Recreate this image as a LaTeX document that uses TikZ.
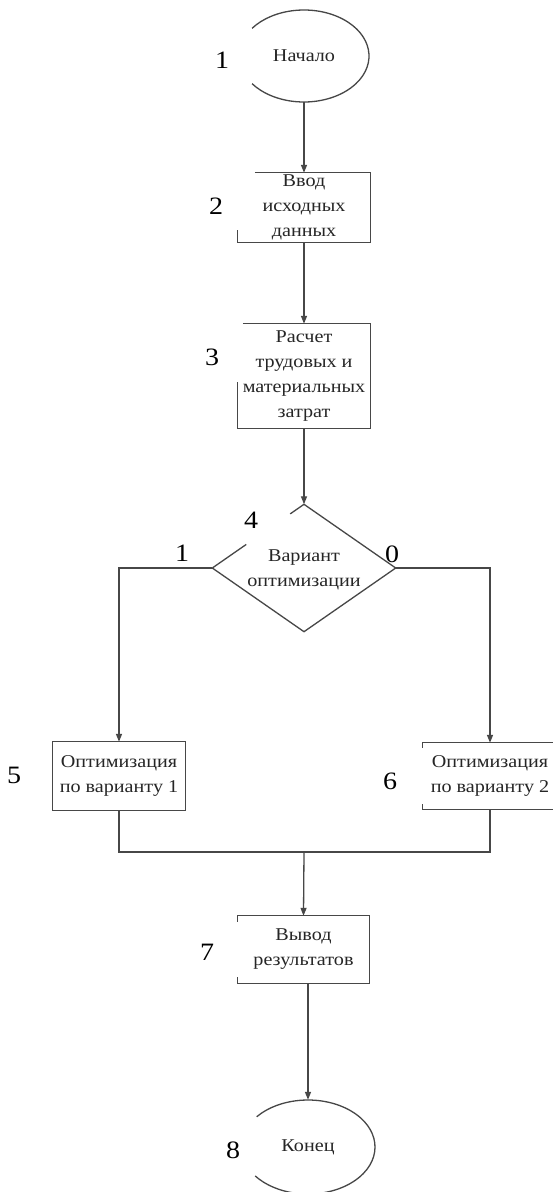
\documentclass[tikz,border=0pt]{standalone}
\usepackage{fontspec}
\setmainfont{Liberation Serif}[FakeStretch=1.12]
\usetikzlibrary{arrows.meta,calc,shapes.geometric}

\begin{document}
\begin{tikzpicture}[x=1pt,y=-1pt,
  outline/.style={draw=black!72, line width=1.3pt},
  flow/.style={outline, -{Triangle[length=8pt,width=6pt]}},
  link/.style={outline},
  boxnode/.style={rectangle, inner sep=0pt, align=center, text=black!85,
    font=\fontsize{18}{25}\selectfont},
  ovalnode/.style={ellipse, inner sep=0pt, minimum width=130pt, minimum height=92pt,
    text=black!85, font=\fontsize{18}{25}\selectfont},
  numlabel/.style={inner sep=0pt, text=black, font=\fontsize{25}{25}\selectfont},
]
\useasboundingbox (0,0) rectangle (553,1192);
\fill[white] (0,0) rectangle (553,1192);

% blocks
\node[ovalnode] (e1) at (304,56) {Начало};
\node[boxnode, minimum width=132pt, minimum height=69pt] (b2) at (304,207.5) {Ввод\\исходных\\данных};
\node[boxnode, minimum width=132pt, minimum height=104pt] (b3) at (304,376) {Расчет\\трудовых и\\материальных\\затрат};
\node[diamond, inner sep=0pt, minimum width=183pt, minimum height=127pt] (d4) at (304,568) {};
\node[boxnode] (d4t) at ([yshift=-1.5pt]d4.center) {Вариант\\оптимизации};
\node[boxnode, minimum width=132pt, minimum height=68pt] (b5) at (119,776) {Оптимизация\\по варианту 1};
\node[boxnode, minimum width=134pt, minimum height=66pt] (b6) at (490,776) {Оптимизация\\по варианту 2};
\node[boxnode, minimum width=131pt, minimum height=67pt] (b7) at (303.5,949.5) {Вывод\\результатов};
\node[ovalnode, minimum width=134pt, minimum height=94pt] (e8) at (308,1147) {Конец};

% outlines
\draw[outline] ([shift={(143:65pt and 46pt)}]e1.center)
  arc[start angle=143, end angle=-143, x radius=65pt, y radius=46pt];
\draw[outline] ([xshift=17pt]b2.north west) -- (b2.north east) -- (b2.south east)
  -- (b2.south west) -- ([yshift=12pt]b2.south west);
\draw[outline] ([xshift=5pt]b3.north west) -- (b3.north east) -- (b3.south east)
  -- (b3.south west) -- ([yshift=46pt]b3.south west);
\draw[outline] ($(d4.west)!0.85!(d4.north)$) -- (d4.north) -- (d4.east) -- (d4.south)
  -- (d4.west) -- ($(d4.west)!0.37!(d4.north)$);
\draw[outline] (b5.north west) rectangle (b5.south east);
\draw[outline] ([yshift=-5pt]b6.north west) -- (b6.north west) -- ([xshift=-4pt]b6.north east);
\draw[outline] ([yshift=5pt]b6.south west) -- (b6.south west) -- ([xshift=-4pt]b6.south east);
\draw[outline] ([yshift=-6pt]b7.north west) -- (b7.north west) -- (b7.north east)
  -- (b7.south east) -- (b7.south west) -- ([yshift=6pt]b7.south west);
\draw[outline] ([shift={(140:67pt and 47pt)}]e8.center)
  arc[start angle=140, end angle=-142, x radius=67pt, y radius=47pt];

% connectors
\draw[flow] (e1.south) -- (b2.north);
\draw[flow] (b2.south) -- (b3.north);
\draw[flow] (b3.south) -- (d4.north);
\draw[flow] (d4.west) -- (d4.west -| b5.north) -- (b5.north);
\draw[flow] (d4.east) -- (d4.east -| b6.north) -- (b6.north);
\coordinate (j) at (304,852);
\draw[link] (b5.south) -- (b5.south |- j) -- (b6.south |- j) -- (b6.south);
\draw[flow] (j) -- (b7.north);
\draw[flow] (e8.north |- b7.south) -- (e8.north);

% block numbers and branch values
\node[numlabel] (n1) at (222,60) {1};
\node[numlabel] (n2) at (216,206) {2};
\node[numlabel] (n3) at (212,357) {3};
\node[numlabel] (n4) at (251,520) {4};
\node[numlabel] (yes) at (182,553) {1};
\node[numlabel] (no) at (392,554) {0};
\node[numlabel] (n5) at (14,775) {5};
\node[numlabel] (n6) at (390,781) {6};
\node[numlabel] (n7) at (207,952) {7};
\node[numlabel] (n8) at (233,1150) {8};
\end{tikzpicture}
\end{document}
